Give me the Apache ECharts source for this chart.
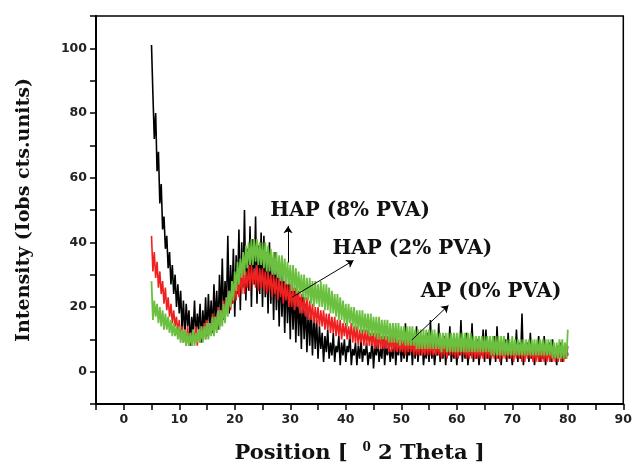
<!DOCTYPE html>
<html>
<head>
  <meta charset="utf-8">
</head>
<body style="margin: 0; background: #fff">
  <div id="container" style="width: 635px; height: 472px"></div>

  <script type="text/javascript" src="https://fastly.jsdelivr.net/npm/echarts@6/dist/echarts.min.js"></script>
  <script type="text/javascript">
    // scan grid: 5 to 80 deg, 0.25 deg per reading (one row = 5 deg)
    var xStart = 5;
    var xStep = 0.25;

    // AP (0% PVA) - black
    var ap0 = [
      101, 86, 72, 80, 62, 68, 52, 58, 44, 48, 38, 42, 32, 37, 27, 33, 24, 30, 20, 27,
      18, 25, 13, 22, 11, 21, 14, 19, 8, 17, 12, 22, 10, 18, 13, 21, 9, 19, 12, 23,
      11, 24, 14, 22, 12, 27, 15, 25, 13, 30, 17, 35, 16, 28, 19, 42, 18, 33, 21, 38,
      17, 36, 24, 44, 19, 40, 26, 50, 22, 38, 25, 45, 20, 41, 27, 48, 21, 39, 24, 43,
      20, 42, 23, 37, 18, 40, 21, 35, 16, 37, 19, 33, 14, 32, 17, 30, 12, 31, 15, 28,
      10, 28, 13, 25, 9, 26, 11, 23, 7, 24, 10, 21, 6, 20, 8, 19, 5, 18, 7, 16,
      4, 14, 7, 12, 3, 11, 6, 13, 4, 9, 5, 12, 3, 8, 6, 11, 2, 9, 5, 10,
      3, 8, 6, 12, 2, 7, 5, 9, 2, 8, 4, 10, 3, 7, 5, 9, 2, 6, 4, 11,
      1, 8, 5, 10, 3, 7, 4, 13, 2, 8, 5, 9, 3, 7, 4, 12, 2, 8, 5, 10,
      3, 8, 4, 15, 3, 7, 5, 11, 2, 9, 4, 14, 3, 8, 5, 10, 2, 7, 4, 12,
      3, 16, 4, 8, 2, 7, 5, 15, 3, 9, 4, 11, 2, 8, 5, 14, 3, 7, 4, 10,
      2, 8, 5, 16, 3, 9, 4, 12, 2, 7, 5, 15, 3, 8, 4, 10, 2, 8, 5, 13,
      3, 13, 4, 8, 2, 7, 5, 11, 3, 14, 4, 8, 2, 9, 5, 10, 3, 12, 4, 7,
      2, 7, 5, 13, 3, 9, 4, 18, 2, 8, 5, 9, 3, 12, 4, 8, 2, 7, 5, 11,
      3, 7, 4, 11, 2, 8, 5, 9, 3, 10, 4, 7, 2, 8, 5, 9, 3, 7, 4, 8,
      5
    ];

    // HAP (2% PVA) - red
    var hap2 = [
      42, 31, 37, 29, 34, 26, 31, 24, 28, 21, 26, 19, 23, 17, 21, 15, 19, 14, 17, 12,
      16, 10, 14, 9, 13, 8, 14, 9, 12, 8, 13, 9, 14, 8, 13, 9, 14, 10, 15, 10,
      16, 11, 15, 12, 18, 12, 17, 14, 20, 14, 19, 16, 22, 16, 23, 18, 25, 19, 26, 21,
      28, 22, 29, 23, 30, 24, 32, 24, 31, 26, 33, 25, 33, 27, 32, 26, 33, 25, 32, 26,
      32, 25, 31, 24, 31, 25, 30, 23, 30, 24, 29, 22, 29, 23, 28, 21, 28, 22, 27, 20,
      27, 20, 26, 19, 26, 20, 25, 18, 24, 18, 23, 17, 23, 16, 22, 16, 21, 15, 20, 15,
      20, 14, 19, 14, 19, 13, 18, 13, 18, 12, 17, 12, 17, 11, 16, 11, 16, 10, 15, 11,
      15, 10, 14, 10, 15, 9, 14, 9, 14, 8, 13, 9, 13, 8, 13, 8, 13, 8, 12, 8,
      12, 7, 12, 7, 12, 7, 11, 7, 11, 7, 11, 6, 11, 6, 11, 6, 11, 6, 10, 6,
      10, 6, 10, 5, 10, 6, 10, 6, 10, 5, 9, 5, 9, 5, 10, 5, 9, 5, 9, 5,
      9, 5, 9, 5, 10, 5, 9, 5, 9, 4, 9, 5, 9, 4, 9, 5, 9, 5, 9, 4,
      9, 4, 9, 5, 9, 5, 8, 4, 8, 4, 9, 4, 9, 4, 8, 4, 8, 4, 8, 4,
      9, 4, 8, 4, 8, 4, 8, 4, 9, 4, 8, 3, 8, 4, 8, 4, 8, 4, 8, 4,
      9, 3, 8, 4, 8, 4, 8, 3, 8, 3, 8, 4, 8, 4, 7, 3, 7, 3, 7, 3,
      8, 3, 7, 3, 7, 3, 7, 3, 8, 3, 7, 3, 7, 3, 7, 3, 8, 3, 8, 4,
      8
    ];

    // HAP (8% PVA) - green
    var hap8 = [
      28, 16, 22, 17, 21, 15, 20, 14, 19, 13, 18, 13, 17, 12, 16, 11, 15, 11, 14, 10,
      14, 9, 13, 9, 13, 8, 12, 8, 12, 8, 13, 8, 12, 9, 13, 9, 14, 9, 14, 10,
      15, 10, 15, 11, 17, 11, 17, 12, 19, 13, 19, 14, 21, 15, 23, 17, 25, 20, 28, 22,
      31, 25, 34, 27, 35, 29, 37, 30, 39, 32, 40, 33, 41, 33, 41, 34, 41, 33, 40, 33,
      40, 32, 40, 31, 39, 31, 38, 30, 37, 30, 37, 29, 36, 28, 36, 28, 35, 27, 34, 27,
      33, 25, 33, 25, 32, 24, 31, 24, 30, 23, 30, 22, 29, 22, 29, 21, 28, 20, 28, 21,
      27, 20, 28, 20, 27, 19, 27, 19, 26, 18, 25, 18, 24, 17, 24, 16, 23, 16, 22, 15,
      21, 14, 21, 15, 20, 14, 20, 13, 19, 13, 19, 12, 19, 12, 18, 12, 18, 11, 18, 11,
      17, 11, 17, 10, 17, 10, 16, 10, 16, 10, 16, 9, 15, 9, 15, 9, 15, 9, 15, 8,
      14, 9, 14, 8, 14, 8, 14, 8, 14, 8, 13, 7, 13, 7, 13, 7, 13, 7, 13, 7,
      13, 7, 13, 7, 13, 7, 12, 7, 12, 6, 12, 7, 12, 6, 12, 6, 12, 6, 12, 6,
      12, 6, 12, 6, 12, 6, 12, 6, 12, 6, 12, 6, 11, 6, 11, 6, 11, 6, 11, 6,
      11, 6, 11, 6, 11, 5, 11, 5, 11, 5, 11, 5, 11, 5, 11, 5, 10, 5, 10, 5,
      11, 5, 10, 5, 10, 5, 10, 5, 10, 5, 10, 5, 10, 5, 10, 5, 10, 5, 10, 5,
      10, 5, 10, 5, 10, 5, 10, 5, 10, 4, 9, 4, 9, 4, 10, 4, 10, 4, 9, 4,
      13
    ];

    var seriesNames = ['AP (0% PVA)', 'HAP (2% PVA)', 'HAP (8% PVA)'];

    // annotation: text anchor (left edge, middle) and arrow [from, to] in data units
    var labelAt = [[53.5, 24.8], [37.6, 38], [26.4, 49.7]];
    var arrowAt = [
      [[51.9, 9.8], [58.5, 20.5]],
      [[30.3, 23], [41.4, 34.4]],
      [[29.6, 33.8], [29.6, 45]]
    ];

    var yTicks = [0, 20, 40, 60, 80, 100];
    var xTicks = [0, 10, 20, 30, 40, 50, 60, 70, 80, 90];

    function toPairs(vals) {
      return vals.map(function (v, i) { return [xStart + i * xStep, v]; });
    }

    var colors = ['#000000', '#ee2020', '#6cc040'];
    var widths = [1.6, 1.6, 1.8];
    var serif = '"DejaVu Serif", "Liberation Serif", serif';
    var sans = '"DejaVu Sans", Arial, sans-serif';

    var chart = echarts.init(document.getElementById('container'), null, { renderer: 'canvas' });

    var series = [ap0, hap2, hap8].map(function (vals, k) {
      return {
        name: seriesNames[k],
        type: 'line',
        data: toPairs(vals),
        showSymbol: false,
        animation: false,
        lineStyle: { color: colors[k], width: widths[k] },
        itemStyle: { color: colors[k] },
        z: 2 + k,
        markLine: {
          silent: true,
          animation: false,
          symbol: ['none', 'arrow'],
          symbolSize: 7,
          label: { show: false },
          lineStyle: { color: '#000', width: 1, type: 'solid' },
          data: [[{ coord: arrowAt[k][0] }, { coord: arrowAt[k][1] }]]
        },
        markPoint: {
          silent: true,
          animation: false,
          symbolSize: 0,
          label: {
            show: true,
            position: 'right',
            distance: 0,
            formatter: seriesNames[k],
            fontFamily: serif,
            fontWeight: 'bold',
            fontSize: 20,
            color: '#111'
          },
          data: [{ coord: labelAt[k] }]
        }
      };
    });

    var option = {
      backgroundColor: '#fff',
      animation: false,
      grid: {
        left: 96, right: 9, top: 16, bottom: 68,
        show: true, borderColor: '#000', borderWidth: 1.5, backgroundColor: 'transparent'
      },
      xAxis: {
        type: 'value',
        min: -5, max: 90, interval: 5,
        name: 'Position [  {sup|0} 2 Theta ]',
        nameLocation: 'middle',
        nameGap: 38,
        nameTextStyle: {
          fontFamily: serif, fontWeight: 'bold', fontSize: 21, color: '#111',
          rich: {
            sup: { fontFamily: serif, fontWeight: 'bold', fontSize: 12, color: '#111', padding: [0, 0, 12, 0] }
          }
        },
        axisLine: { show: true, onZero: false, lineStyle: { color: '#000', width: 2 } },
        axisTick: { show: true, inside: false, length: 6, lineStyle: { color: '#000', width: 1.5 } },
        splitLine: { show: false },
        axisLabel: {
          margin: 9,
          fontFamily: sans, fontWeight: 'bold', fontSize: 12.5, color: '#222',
          formatter: function (v) { return xTicks.indexOf(v) >= 0 ? String(v) : ''; }
        }
      },
      yAxis: {
        type: 'value',
        min: -10, max: 110, interval: 10,
        name: 'Intensity (Iobs cts.units)',
        nameLocation: 'middle',
        nameGap: 62,
        nameTextStyle: { fontFamily: serif, fontWeight: 'bold', fontSize: 19, color: '#111' },
        axisLine: { show: true, onZero: false, lineStyle: { color: '#000', width: 2 } },
        axisTick: { show: true, inside: false, length: 6, lineStyle: { color: '#000', width: 1.5 } },
        splitLine: { show: false },
        axisLabel: {
          margin: 9,
          fontFamily: sans, fontWeight: 'bold', fontSize: 12.5, color: '#222',
          formatter: function (v) { return yTicks.indexOf(v) >= 0 ? String(v) : ''; }
        }
      },
      series: series
    };

    chart.setOption(option);
  </script>
</body>
</html>
